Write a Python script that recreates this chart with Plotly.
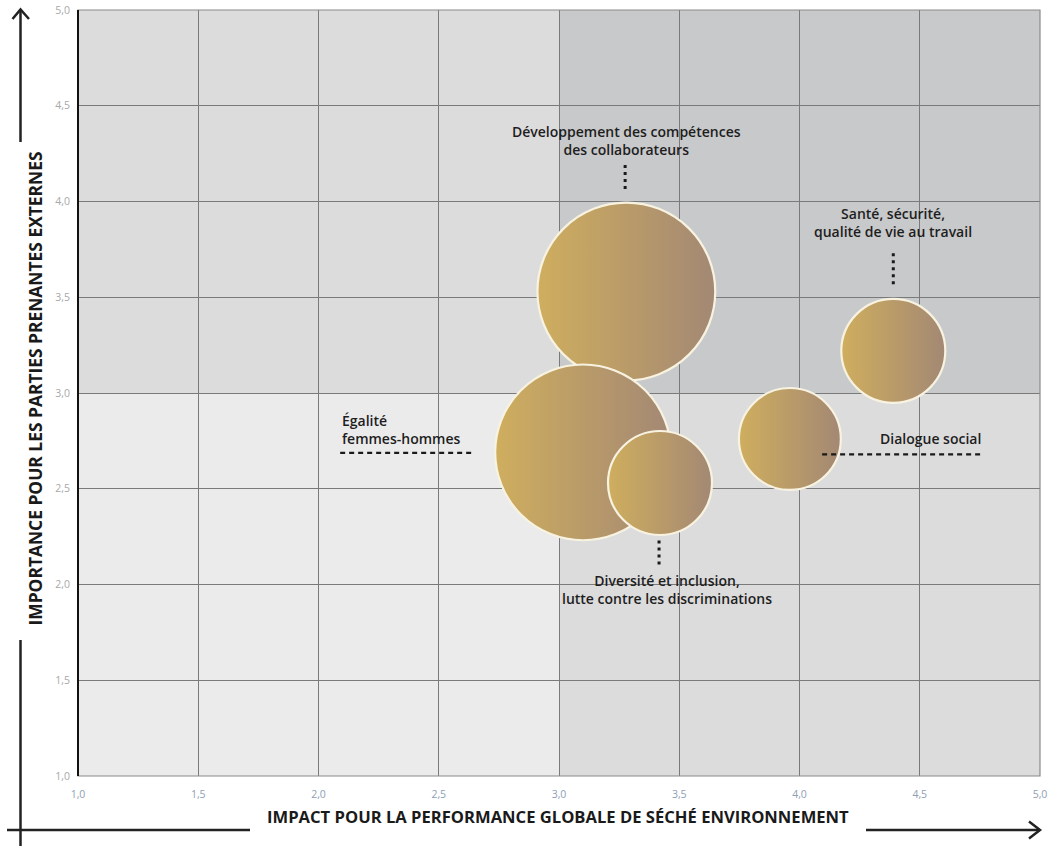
import plotly.graph_objects as go

# ---- data ----
topics = [
    "Développement des compétences des collaborateurs",
    "Égalité femmes-hommes",
    "Diversité et inclusion, lutte contre les discriminations",
    "Dialogue social",
    "Santé, sécurité, qualité de vie au travail",
]
impact = [3.28, 3.10, 3.42, 3.96, 4.39]        # x
importance = [3.53, 2.69, 2.53, 2.76, 3.22]    # y
weight = [1.71, 1.69, 1.0, 0.98, 1.0]          # relative bubble size

tick_vals = [1.0, 1.5, 2.0, 2.5, 3.0, 3.5, 4.0, 4.5, 5.0]

x_title = "IMPACT POUR LA PERFORMANCE GLOBALE DE SÉCHÉ ENVIRONNEMENT"
y_title = "IMPORTANCE POUR LES PARTIES PRENANTES EXTERNES"

# ---- figure ----
W, H = 1051, 847
ml, mr, mt, mb = 78, 11, 10, 71
pw, ph = W - ml - mr, H - mt - mb


def px2paper_x(px):
    return (px - ml) / pw


def px2paper_y(py):
    return (H - mb - py) / ph


FONT = "Open Sans"
fig = go.Figure()

fig.add_trace(go.Scatter(
    x=impact, y=importance, mode="markers",
    text=topics, hoverinfo="text",
    marker=dict(
        size=weight, sizemode="diameter", sizeref=1 / 104,
        color="#cfae5e",
        gradient=dict(type="horizontal", color="#a38874"),
        line=dict(color="#f8f2e0", width=2.2),
        opacity=1,
    ),
    showlegend=False,
))

shapes = []
# quadrant backgrounds
quad = [
    (1, 3, 1, 3, "#ebebeb"),
    (1, 3, 3, 5, "#dcdcdc"),
    (3, 5, 1, 3, "#dcdcdc"),
    (3, 5, 3, 5, "#c8c9ca"),
]
for x0, x1, y0, y1, c in quad:
    shapes.append(dict(type="rect", xref="x", yref="y", x0=x0, x1=x1, y0=y0, y1=y1,
                       fillcolor=c, line=dict(width=0), layer="below"))

# leader lines (decorative, anchored to label positions)
dot = dict(color="#1a1a1a", width=3, dash="3px,4px")
dash = dict(color="#1a1a1a", width=2.2, dash="5px,4px")
shapes += [
    dict(type="line", xref="x", yref="y", x0=3.275, x1=3.275, y0=4.19, y1=4.05, line=dot),
    dict(type="line", xref="x", yref="y", x0=4.39, x1=4.39, y0=3.73, y1=3.55, line=dot),
    dict(type="line", xref="x", yref="y", x0=3.416, x1=3.416, y0=2.23, y1=2.09, line=dot),
    dict(type="line", xref="x", yref="y", x0=2.09, x1=2.64, y0=2.687, y1=2.687, line=dash),
    dict(type="line", xref="x", yref="y", x0=4.094, x1=4.76, y0=2.68, y1=2.68, line=dash),
]

# outer plot border + left axis line
shapes.append(dict(type="rect", xref="paper", yref="paper", x0=0, x1=1, y0=0, y1=1,
                   line=dict(color="#8a8a8a", width=1.2)))
shapes.append(dict(type="line", xref="paper", yref="paper", x0=0, x1=0, y0=0, y1=1,
                   line=dict(color="#111111", width=2)))

# outer arrows (paper coords converted from pixels)
arrow_line = dict(color="#222222", width=2.5)
vx = px2paper_x(20.5)
shapes += [
    dict(type="line", xref="paper", yref="paper", x0=vx, x1=vx,
         y0=px2paper_y(10), y1=px2paper_y(142), line=arrow_line),
    dict(type="line", xref="paper", yref="paper", x0=vx, x1=vx,
         y0=px2paper_y(640), y1=px2paper_y(846), line=arrow_line),
    dict(type="path", xref="paper", yref="paper",
         path=f"M {px2paper_x(12.5)} {px2paper_y(19)} L {vx} {px2paper_y(9.5)} L {px2paper_x(29)} {px2paper_y(19)}",
         line=arrow_line),
]
hy = px2paper_y(830)
shapes += [
    dict(type="line", xref="paper", yref="paper", x0=px2paper_x(7), x1=px2paper_x(250),
         y0=hy, y1=hy, line=arrow_line),
    dict(type="line", xref="paper", yref="paper", x0=px2paper_x(866), x1=px2paper_x(1040),
         y0=hy, y1=hy, line=arrow_line),
    dict(type="path", xref="paper", yref="paper",
         path=f"M {px2paper_x(1029)} {px2paper_y(821.5)} L {px2paper_x(1040)} {hy} L {px2paper_x(1029)} {px2paper_y(838.5)}",
         line=arrow_line),
]

lab_font = dict(family=FONT, size=14, color="#1e1e1e", weight=600)
title_font = dict(family=FONT, size=16.6, color="#1a1a1a", weight=700)
ytitle_font = dict(family=FONT, size=17.4, color="#1a1a1a", weight=700)
annotations = [
    dict(x=3.28, y=4.32, xref="x", yref="y", showarrow=False, align="center",
         text="Développement des compétences<br>des collaborateurs", font=lab_font),
    dict(x=4.39, y=3.89, xref="x", yref="y", showarrow=False, align="center",
         text="Santé, sécurité,<br>qualité de vie au travail", font=lab_font),
    dict(x=2.09, y=2.81, xref="x", yref="y", showarrow=False, align="left", xanchor="left",
         text="Égalité<br>femmes-hommes", font=lab_font),
    dict(x=4.543, y=2.765, xref="x", yref="y", showarrow=False, align="center",
         text="Dialogue social", font=lab_font),
    dict(x=3.45, y=1.976, xref="x", yref="y", showarrow=False, align="center",
         text="Diversité et inclusion,<br>lutte contre les discriminations", font=lab_font),
    # axis titles
    dict(x=px2paper_x(558), y=hy, xref="paper", yref="paper", showarrow=False,
         text=x_title, font=title_font),
    dict(x=vx, y=px2paper_y(389), xref="paper", yref="paper", showarrow=False, textangle=-90,
         text=y_title, font=ytitle_font),
]

fig.update_layout(
    width=W, height=H,
    margin=dict(l=ml, r=mr, t=mt, b=mb, autoexpand=False),
    paper_bgcolor="white", plot_bgcolor="white",
    separators=", ",
    shapes=shapes, annotations=annotations,
    font=dict(family=FONT),
    xaxis=dict(range=[1, 5], tickvals=tick_vals, tickformat=".1f", automargin=False,
               showgrid=True, gridcolor="#7a7a7a", gridwidth=1, zeroline=False,
               showline=False, ticks="", layer="above traces", ticklabelstandoff=10,
               tickfont=dict(family=FONT, size=10.5, color="#8fa0b4")),
    yaxis=dict(range=[1, 5], tickvals=tick_vals, tickformat=".1f", automargin=False,
               showgrid=True, gridcolor="#7a7a7a", gridwidth=1, zeroline=False,
               showline=False, ticks="", layer="above traces", ticklabelstandoff=7,
               tickfont=dict(family=FONT, size=10.5, color="#a8a8a8")),
)

fig.write_html("out.html", config={"displayModeBar": False},
               post_script="document.body.style.margin='0px';")
